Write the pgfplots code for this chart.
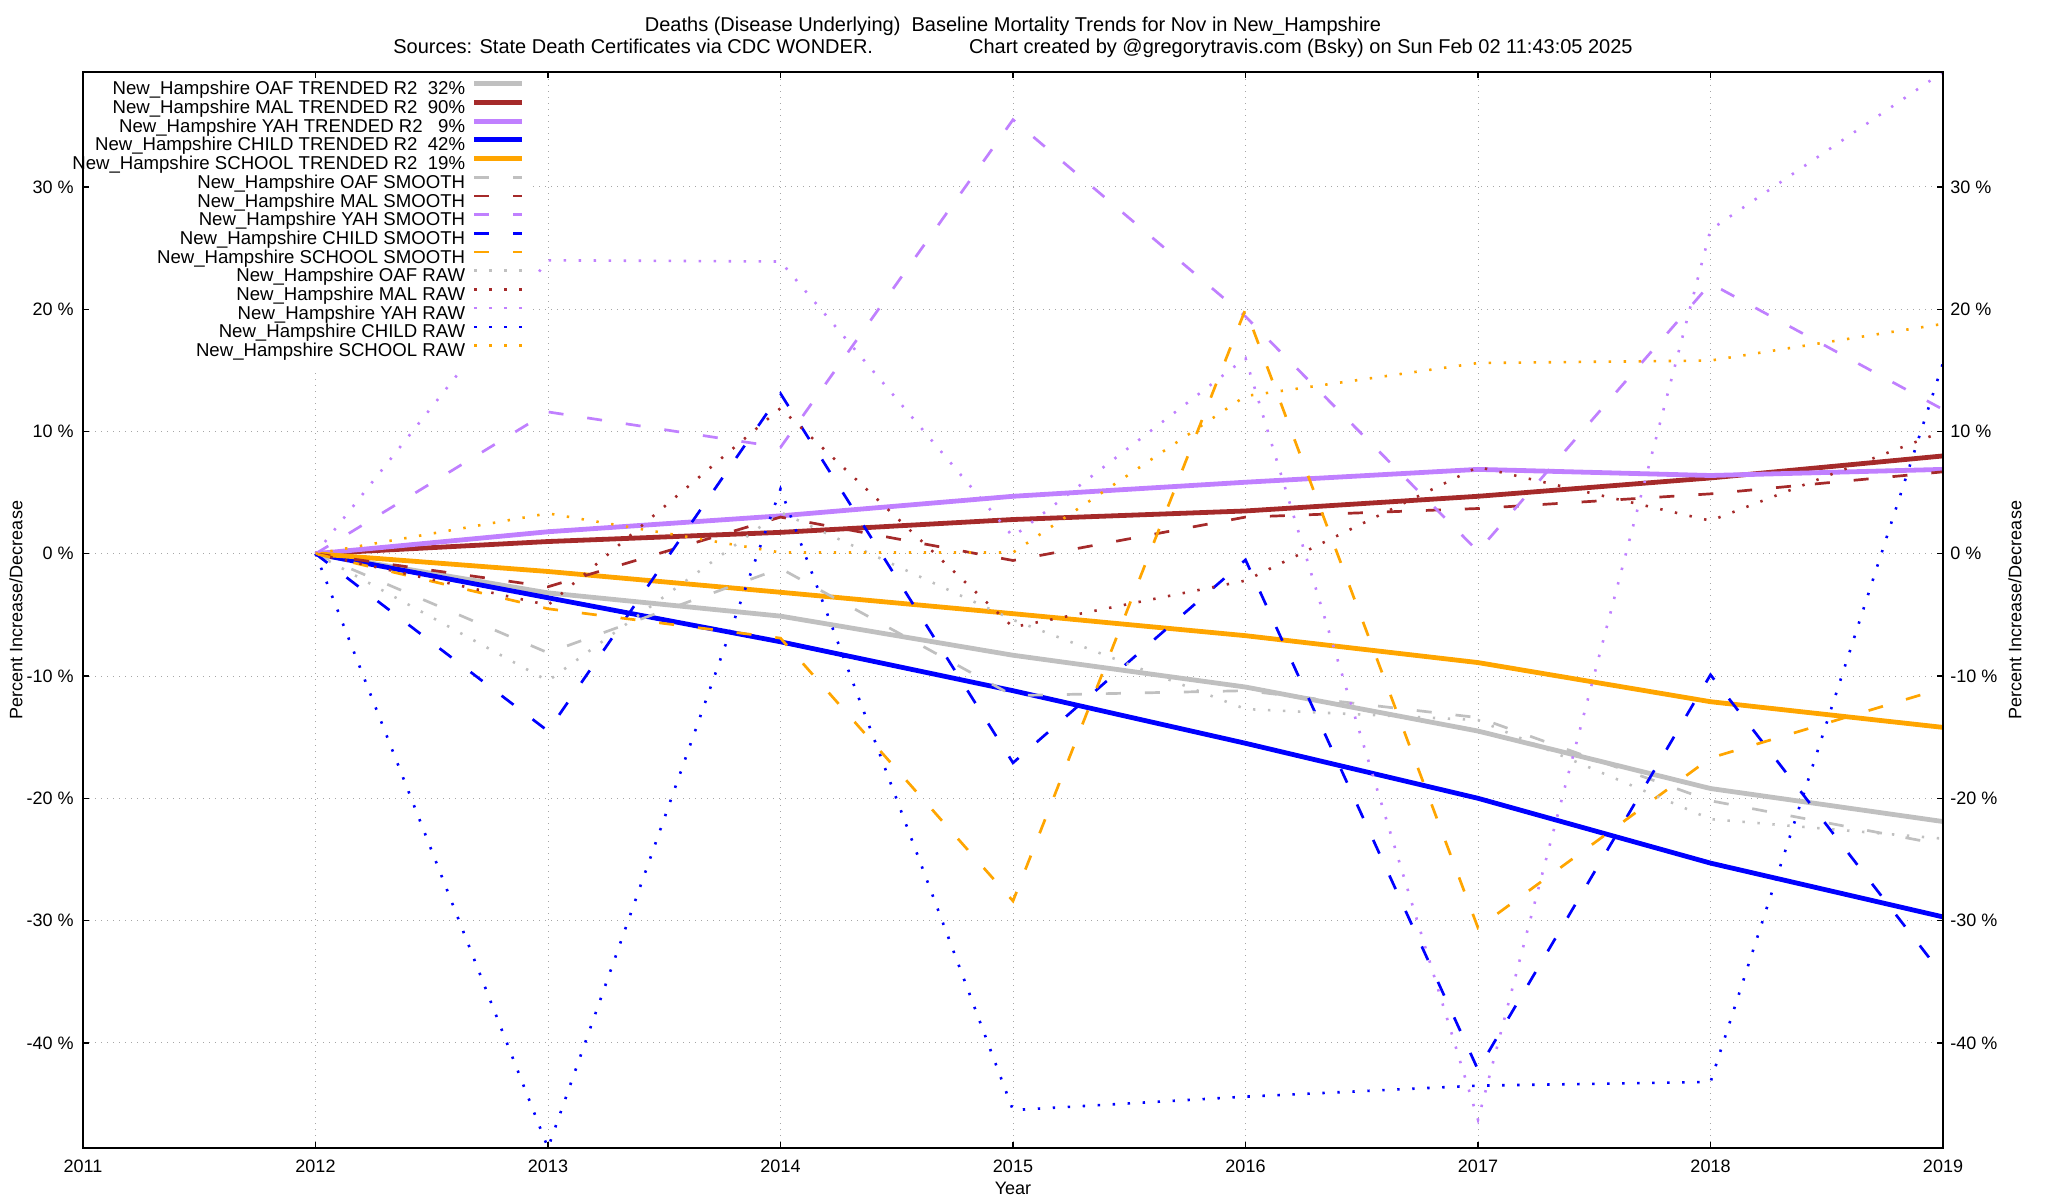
\documentclass[border=0pt]{standalone}
\usepackage{fontspec}
\setmainfont{Liberation Sans}
\usepackage{pgfplots}
\usepackage{pgfplotstable}
\pgfplotsset{compat=1.18}

\definecolor{cOAF}{RGB}{192,192,192}
\definecolor{cMAL}{RGB}{165,42,42}
\definecolor{cYAH}{RGB}{192,128,255}
\definecolor{cCHILD}{RGB}{0,0,255}
\definecolor{cSCHOOL}{RGB}{255,165,0}

\pgfplotstableread{
year  oaf    mal    yah    child  school
2012  0      0      0      0      0
2013  -3.2   1.0    1.8    -3.6   -1.45
2014  -5.1   1.75   3.1    -7.2   -3.15
2015  -8.3   2.8    4.7    -11.2  -4.9
2016  -10.9  3.5    5.85   -15.5  -6.7
2017  -14.5  4.7    6.9    -20.0  -8.9
2018  -19.2  6.2    6.4    -25.3  -12.1
2019  -21.9  8.0    6.9    -29.7  -14.2
}\trended

\pgfplotstableread{
year  oaf    mal    yah    child  school
2012  0      0      0      0      0
2013  -8.1   -2.7   11.6   -14.5  -4.5
2014  -1.2   3.0    8.7    13.1   -6.9
2015  -11.6  -0.55  35.5   -17.1  -28.4
2016  -11.2  3.0    19.4   -0.5   20.0
2017  -13.4  3.7    0.2    -42.2  -30.6
2018  -20.2  4.9    22.1   -9.9   -16.7
2019  -23.8  6.7    11.8   -34.5  -11.0
}\smoothed

\pgfplotstableread{
year  oaf    mal    yah    child  school
2012  0      0      0      0      0
2013  -10.4  -4.2   24.0   -48.6  3.3
2014  3.4    11.9   23.9   5.3    0.1
2015  -5.4   -6.0   1.4    -45.5  0.1
2016  -12.7  -2.2   16.0   -44.4  12.9
2017  -13.6  7.1    -46.3  -43.5  15.6
2018  -21.7  2.7    26.5   -43.2  15.8
2019  -23.3  10.0   39.4   15.6   18.8
}\raw

\pgfplotsset{
  tr/.style={line width=2.4pt, solid, line join=round},
  sm/.style={line width=1.35pt, dash pattern=on 7.5pt off 12pt},
  rw/.style={line width=1.3pt, dash pattern=on 1.2pt off 6.3pt},
  geom/.style={scale only axis, width=930pt, height=538pt,
    xmin=2011, xmax=2019, ymin=-48.6, ymax=39.4,
    xtick={2011,2012,2013,2014,2015,2016,2017,2018,2019},
    ytick={-40,-30,-20,-10,0,10,20,30}},
}

\begin{document}
\fontsize{9}{10.5}\selectfont
\begin{tikzpicture}[font=\fontsize{9}{10.5}\selectfont]
\path[use as bounding box] (-41.5pt,-26pt) rectangle (982.5pt,574pt);

% data layer
\begin{axis}[geom,
  xticklabels={}, yticklabels={},
  major tick length=0pt,
  axis line style={draw=none},
  grid=major,
  major grid style={black!35, line width=0.5pt, dash pattern=on 0.5pt off 2.5pt},
  no markers,
  legend cell align=right,
  legend plot pos=right,
  legend style={at={(0.2419,1)}, anchor=north east, fill=white, draw=none,
    inner xsep=4pt, inner ysep=4.2pt, row sep=0pt, column sep=3.3pt,
    font=\fontsize{9.3}{10.5}\selectfont,
    nodes={inner sep=0pt, text height=7pt, text depth=2.35pt}},
  legend image code/.code={\draw[#1] (0pt,3.2pt) -- (24pt,3.2pt);},
]
\addplot[cOAF, tr]    table[x=year,y=oaf]{\trended};
\addlegendentry{New\_Hampshire OAF TRENDED R2\ \ 32\%}
\addplot[cMAL, tr]    table[x=year,y=mal]{\trended};
\addlegendentry{New\_Hampshire MAL TRENDED R2\ \ 90\%}
\addplot[cYAH, tr]    table[x=year,y=yah]{\trended};
\addlegendentry{New\_Hampshire YAH TRENDED R2\ \ \ 9\%}
\addplot[cCHILD, tr]  table[x=year,y=child]{\trended};
\addlegendentry{New\_Hampshire CHILD TRENDED R2\ \ 42\%}
\addplot[cSCHOOL, tr] table[x=year,y=school]{\trended};
\addlegendentry{New\_Hampshire SCHOOL TRENDED R2\ \ 19\%}

\addplot[cOAF, sm]    table[x=year,y=oaf]{\smoothed};
\addlegendentry{New\_Hampshire OAF SMOOTH}
\addplot[cMAL, sm]    table[x=year,y=mal]{\smoothed};
\addlegendentry{New\_Hampshire MAL SMOOTH}
\addplot[cYAH, sm]    table[x=year,y=yah]{\smoothed};
\addlegendentry{New\_Hampshire YAH SMOOTH}
\addplot[cCHILD, sm]  table[x=year,y=child]{\smoothed};
\addlegendentry{New\_Hampshire CHILD SMOOTH}
\addplot[cSCHOOL, sm] table[x=year,y=school]{\smoothed};
\addlegendentry{New\_Hampshire SCHOOL SMOOTH}

\addplot[cOAF, rw]    table[x=year,y=oaf]{\raw};
\addlegendentry{New\_Hampshire OAF RAW}
\addplot[cMAL, rw]    table[x=year,y=mal]{\raw};
\addlegendentry{New\_Hampshire MAL RAW}
\addplot[cYAH, rw]    table[x=year,y=yah]{\raw};
\addlegendentry{New\_Hampshire YAH RAW}
\addplot[cCHILD, rw]  table[x=year,y=child]{\raw};
\addlegendentry{New\_Hampshire CHILD RAW}
\addplot[cSCHOOL, rw] table[x=year,y=school]{\raw};
\addlegendentry{New\_Hampshire SCHOOL RAW}
\end{axis}

% frame, left/bottom labels, title
\begin{axis}[geom,
  xticklabels={2011,2012,2013,2014,2015,2016,2017,2018,2019},
  yticklabels={-40 \%,-30 \%,-20 \%,-10 \%,0 \%,10 \%,20 \%,30 \%},
  tick align=inside, major tick length=2.8pt,
  axis line style={line width=0.7pt, black},
  every tick/.style={black, line width=0.7pt},
  xticklabel style={anchor=center, yshift=-9pt, inner sep=0pt},
  yticklabel style={anchor=east, xshift=-4.5pt, inner sep=0pt},
  xlabel={Year},
  xlabel style={at={(axis description cs:0.5,-0.0372)}, anchor=center, inner sep=0pt},
  ylabel={Percent Increase/Decrease},
  ylabel style={at={(axis description cs:-0.0360,0.5)}, anchor=center, inner sep=0pt},
  title={Deaths (Disease Underlying)\ \ Baseline Mortality Trends for Nov in New\_Hampshire\\Sources: State Death Certificates via CDC WONDER.\hspace{48pt}Chart created by @gregorytravis.com (Bsky) on Sun Feb 02 11:43:05 2025},
  title style={at={(axis description cs:0.5,1.0213)}, anchor=center, align=center, inner sep=0pt,
    font=\fontsize{10}{11}\selectfont},
]
\end{axis}

% right labels
\begin{axis}[geom,
  axis x line=none, axis y line*=right,
  y axis line style={draw=none},
  major tick length=0pt,
  yticklabel pos=right,
  yticklabels={-40 \%,-30 \%,-20 \%,-10 \%,0 \%,10 \%,20 \%,30 \%},
  yticklabel style={anchor=west, xshift=3.5pt, inner sep=0pt},
  ylabel={Percent Increase/Decrease},
  ylabel style={at={(axis description cs:1.0387,0.5)}, anchor=center, inner sep=0pt},
]
\end{axis}
\end{tikzpicture}
\end{document}
